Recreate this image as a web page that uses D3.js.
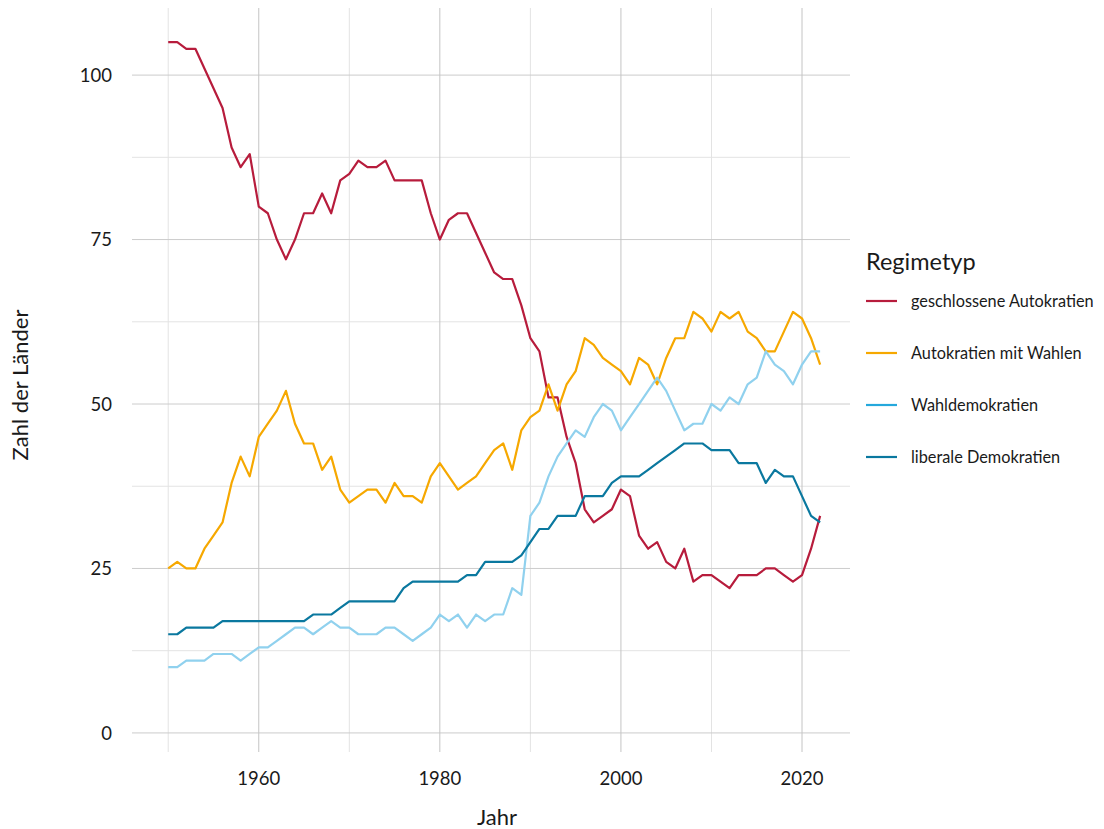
<!DOCTYPE html>
<meta charset="utf-8">
<style>
body { margin: 0; background: #fff; }
text { font-family: Lato, "Open Sans", sans-serif; fill: #1a1a1a; }
</style>
<body>
<script src="https://d3js.org/d3.v7.min.js"></script>
<script>

width = 1104;
height = 829;

years = d3.range(1950, 2023);

closedAutocracies = [105,105,104,104,101,98,95,89,86,88,80,79,75,72,75,79,79,82,79,84,85,87,86,86,87,84,84,84,84,79,75,78,79,79,76,73,70,69,69,65,60,58,51,51,45,41,34,32,33,34,37,36,30,28,29,26,25,28,23,24,24,23,22,24,24,24,25,25,24,23,24,28,33];
electoralAutocracies = [25,26,25,25,28,30,32,38,42,39,45,47,49,52,47,44,44,40,42,37,35,36,37,37,35,38,36,36,35,39,41,39,37,38,39,41,43,44,40,46,48,49,53,49,53,55,60,59,57,56,55,53,57,56,53,57,60,60,64,63,61,64,63,64,61,60,58,58,61,64,63,60,56];
electoralDemocracies = [10,10,11,11,11,12,12,12,11,12,13,13,14,15,16,16,15,16,17,16,16,15,15,15,16,16,15,14,15,16,18,17,18,16,18,17,18,18,22,21,33,35,39,42,44,46,45,48,50,49,46,48,50,52,54,52,49,46,47,47,50,49,51,50,53,54,58,56,55,53,56,58,58];
liberalDemocracies = [15,15,16,16,16,16,17,17,17,17,17,17,17,17,17,17,18,18,18,19,20,20,20,20,20,20,22,23,23,23,23,23,23,24,24,26,26,26,26,27,29,31,31,33,33,33,36,36,36,38,39,39,39,40,41,42,43,44,44,44,43,43,43,41,41,41,38,40,39,39,36,33,32];

seriesNames = ["geschlossene Autokratien", "Autokratien mit Wahlen", "Wahldemokratien", "liberale Demokratien"];
seriesValues = [closedAutocracies, electoralAutocracies, electoralDemocracies, liberalDemocracies];
lineColors = ["#b71c3c", "#f6a800", "#90d1ee", "#0a789f"];
legendColors = ["#b71c3c", "#f6a800", "#25a8dc", "#0a789f"];

yTicks = [0, 25, 50, 75, 100];
xTicks = [1960, 1980, 2000, 2020];

x = d3.scaleLinear([1946, 2025.3], [132, 850]);
y = d3.scaleLinear([-2.9, 110.2], [752, 8]);

svg = d3.select("body").append("svg")
    .attr("width", width)
    .attr("height", height);

// grid: minor first, then major
grid = svg.append("g");
grid.selectAll(".ymin")
    .data(d3.range(12.5, 110, 25))
    .join("line")
      .attr("x1", 132).attr("x2", 850)
      .attr("y1", d => y(d)).attr("y2", d => y(d))
      .attr("stroke", "#e3e3e3").attr("stroke-width", 1);
grid.selectAll(".xmin")
    .data([1950, 1970, 1990, 2010])
    .join("line")
      .attr("x1", d => x(d)).attr("x2", d => x(d))
      .attr("y1", 8).attr("y2", 752)
      .attr("stroke", "#e3e3e3").attr("stroke-width", 1);
grid.selectAll(".ymaj")
    .data(yTicks)
    .join("line")
      .attr("x1", 132).attr("x2", 850)
      .attr("y1", d => y(d)).attr("y2", d => y(d))
      .attr("stroke", "#cccccc").attr("stroke-width", 1);
grid.selectAll(".xmaj")
    .data(xTicks)
    .join("line")
      .attr("x1", d => x(d)).attr("x2", d => x(d))
      .attr("y1", 8).attr("y2", 752)
      .attr("stroke", "#c4c4c4").attr("stroke-width", 1);

// axis labels
svg.selectAll(".ylab")
    .data(yTicks)
    .join("text")
      .attr("x", 112)
      .attr("y", d => y(d))
      .attr("dy", "0.36em")
      .attr("text-anchor", "end")
      .style("font-size", "18.5px")
      .text(d => d);

svg.selectAll(".xlab")
    .data(xTicks)
    .join("text")
      .attr("x", d => x(d))
      .attr("y", 785)
      .attr("text-anchor", "middle")
      .style("font-size", "18.5px")
      .text(d => d);

svg.append("text")
    .attr("x", 497).attr("y", 825)
    .attr("text-anchor", "middle")
    .style("font-size", "22px")
    .text("Jahr");

svg.append("text")
    .attr("transform", "translate(28,385) rotate(-90)")
    .attr("text-anchor", "middle")
    .style("font-size", "22px")
    .text("Zahl der Länder");

// lines
line = d3.line()
    .x((d, i) => x(years[i]))
    .y(d => y(d));

svg.append("g")
  .selectAll("path")
  .data(seriesValues)
  .join("path")
    .attr("d", d => line(d))
    .attr("fill", "none")
    .attr("stroke", (d, i) => lineColors[i])
    .attr("stroke-width", 2.2)
    .attr("stroke-linejoin", "round");

// legend
legend = svg.append("g");
legend.append("text")
    .attr("x", 866).attr("y", 270)
    .style("font-size", "23.5px")
    .text("Regimetyp");

items = legend.selectAll(".item")
    .data(seriesNames)
    .join("g")
      .attr("transform", (d, i) => `translate(866,${301 + i * 52})`);
items.append("line")
    .attr("x1", 0).attr("x2", 31)
    .attr("stroke", (d, i) => legendColors[i])
    .attr("stroke-width", 2.2);
items.append("text")
    .attr("x", 45)
    .attr("dy", "0.35em")
    .style("font-size", "16.3px")
    .text(d => d);

</script>
